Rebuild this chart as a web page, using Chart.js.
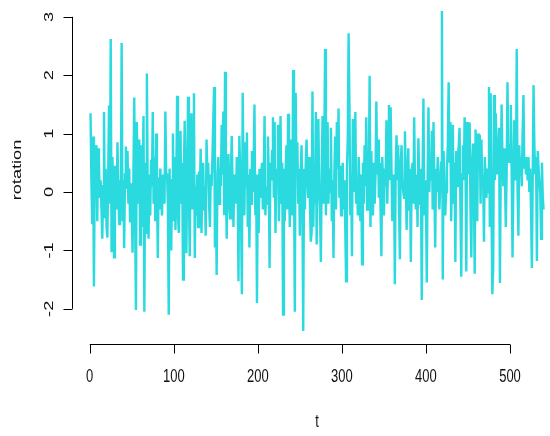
<!DOCTYPE html>
<html>
<head>
<meta charset="utf-8">
<script src="https://cdn.jsdelivr.net/npm/chart.js@4"></script>
<style>
  html, body { margin: 0; padding: 0; background: #fff; overflow: hidden; }
  #wrap { width: 550px; height: 436px; }
</style>
</head>
<body>
<div id="wrap"><canvas id="lineChart" width="550" height="436"></canvas></div>
<script>
// rotation values, t = 1..540
const rotationA = [
  1.35, 0.2, -0.55, 0.95, -1.62, 0.3, 0.7, 0.8, -0.5, 0.75,
  0.5, -0.1, 0.2, -0.3, -0.8, 0.1, 1.37, -0.45, 0.4, -0.6,
  -0.78, 0.3, 1.48, -0.2, 2.62, -1.03, 0.6, 0.15, -1.12, 0.45,
  0.0, -0.3, 0.85, 0.1, -0.55, 0.2, -0.35, 2.55, -0.5, 0.2,
  -0.96, 0.3, 0.78, 0.05, 0.7, -0.2, 0.4, -0.5, 0.15, -0.3,
  -1.04, 0.3, 1.62, -0.4, -2.02, 1.2, 0.4, -0.2, 0.9, -0.9,
  0.8, -0.6, 0.2, 1.3, -2.05, 0.5, -0.7, 2.03, 0.1, -0.8,
  0.3, -0.4, 0.55, 0.1, 1.37, -0.2, 0.6, -0.5, 1.0, 0.2,
  -1.13, 0.25, -0.3, 0.4, 0.0, -0.4, 0.3, 0.1, -0.2, 1.38
];
const rotationB = [
  0.3, 0.3, -0.2, -2.1, 0.4, -0.3, -1.0, 0.2, 1.0, -0.5,
  0.6, -0.65, 0.2, 1.65, -0.4, -0.7, 0.35, 1.05, -0.2, 0.5,
  -1.5, 0.3, 1.22, -0.1, -1.05, 0.4, 1.63, 0.0, -1.1, 0.6,
  1.35, -0.3, 0.2, 1.69, -1.13, 0.1, -0.4, 0.3, -0.6, 0.35,
  -0.1, 0.74, -0.7, 0.2, 0.5, -0.3, 0.1, -0.75, 0.9, 0.3,
  0.5, -0.2, -0.6, 0.3, 0.1, 0.6, 1.23, 1.8, -0.95, 0.2,
  -1.42, 0.3, 0.6, -0.2, 0.4, 0.1, 1.15, 0.3, 1.38, -0.4,
  2.06, 0.2, -0.8, 0.3, 0.65, -0.2, -0.45, 0.4, 0.96, 0.1,
  -0.6, 0.3, 0.0, -0.2, 0.6, 0.2, -1.53, 0.96, 0.4, -0.3
];
const rotationC = [
  -1.75, 1.7, 0.2, -0.4, 0.85, 0.1, 1.02, -0.6, 0.3, -0.95,
  0.4, -0.2, 0.7, 0.0, 0.5, 1.5, -0.4, 0.3, -1.9, 0.3,
  -0.7, 0.4, -0.1, 0.25, 0.5, -0.3, 0.2, 1.3, -0.4, 0.1,
  -0.2, 0.95, 0.3, -1.3, 0.5, 0.2, 0.7, 1.28, -0.1, 1.2,
  -0.7, 0.4, 0.3, 1.15, -0.5, 0.2, 1.3, -0.2, 0.5, -2.1,
  0.4, -0.5, 0.3, 0.8, -0.3, 1.34, 0.3, -0.6, 0.9, 0.2,
  -0.4, 2.09, 0.3, -2.05, 1.7, 0.3, 0.85, -0.2, 0.4, -0.75,
  0.3, 0.8, -0.1, -2.38, 0.4, -0.3, 0.5, 0.9, 0.2, -0.1,
  0.6, -0.2, -0.85, -0.7, 1.72, -0.6, 0.3, -0.2, 1.37, -0.9
];
const rotationD = [
  0.4, 1.25, 0.1, -0.3, -1.2, 0.3, 1.3, -0.2, 0.6, 2.45,
  -0.4, 0.5, 1.2, -0.2, 0.4, 0.0, 1.1, -0.5, 0.2, -1.13,
  0.3, 0.95, -0.3, 1.2, 0.4, 1.43, -0.1, 0.45, -0.4, 0.1,
  0.5, -0.3, 0.2, -0.6, -1.53, 0.4, 0.9, 2.72, 1.49, -0.4,
  0.3, -1.1, 1.25, 0.0, 0.5, 1.37, -0.2, 0.2, -0.4, 0.6,
  0.1, -0.5, 0.3, -1.24, 0.5, -0.2, 0.8, 0.1, 1.28, -0.3,
  0.4, 0.2, 1.99, -0.6, 0.7, 0.0, -0.4, 0.5, -0.2, 0.3,
  1.55, 0.3, 0.9, -0.1, 0.5, -0.3, -1.1, 0.6, 0.2, -0.4,
  0.4, 0.1, 1.23, -0.2, 0.5, 1.49, 0.2, 1.45, 0.4, -0.5
];
const rotationE = [
  -0.2, 0.3, -1.58, 0.4, 0.97, 0.2, 0.8, -0.3, -1.15, 0.5,
  0.8, 0.2, 0.0, -0.1, 1.04, 0.3, -0.65, 0.2, 0.75, -0.3,
  0.4, -1.2, 0.3, 0.5, -0.2, 1.28, 0.1, -0.3, 0.3, -0.6,
  0.92, 0.2, -0.2, 0.4, -1.85, 0.3, 1.6, -0.4, 0.2, -0.1,
  -1.55, 0.3, 1.45, 0.0, 0.5, 0.2, 1.05, -0.3, 1.2, 0.1,
  -0.95, 0.4, 0.0, 0.6, 0.2, -0.3, 0.1, 0.5, 3.1, -1.5,
  0.7, 0.2, -0.4, 0.0, 0.4, 0.8, 1.88, 0.5, 1.2, -0.5,
  0.3, 1.15, -0.2, 0.5, -1.2, 0.7, 0.1, 0.6, 0.8, 1.1,
  -0.2, -1.45, 0.3, 0.8, 0.2, 1.28, 0.6, -1.36, 1.2, 0.3
];
const rotationF = [
  0.8, 1.19, -0.3, -1.12, 0.5, 0.83, 0.1, -1.4, 1.07, 0.4,
  -0.5, 1.0, 0.4, 0.98, -0.2, 0.9, 0.1, 0.3, -0.85, 0.6,
  0.2, -0.1, 0.4, 0.0, 1.8, -0.6, 1.69, -0.3, -1.75, -1.3,
  1.66, 0.2, 1.35, 0.8, 0.3, 0.5, 1.1, -1.56, 0.4, 1.5,
  0.6, 0.1, 0.75, 0.2, -0.6, 0.3, 1.88, 0.7, 0.5, 0.8,
  1.49, 0.3, -1.12, 0.1, 1.23, 0.5, 0.2, 2.45, 0.0, -0.75,
  0.8, 0.3, 0.6, 0.1, 1.0, 1.66, 0.4, 0.6, 0.3, 0.5,
  0.2, 0.6, 0.0, 0.4, -0.3, -1.3, 0.2, 1.83, 0.8, 0.3,
  0.6, -1.18, 0.7, 0.4, 0.2, 0.0, -0.8, 0.5, -0.1, -0.3
];

const xTicks = [0, 100, 200, 300, 400, 500];
const yTicks = [-2, -1, 0, 1, 2, 3];
const xTitle = 't';
const yTitle = 'rotation';

const rotation = rotationA.concat(rotationB, rotationC, rotationD, rotationE, rotationF);
const points = rotation.map((v, i) => ({ x: i + 1, y: v }));

// R-style axes: lines only across the tick range, text stretched like the picture
const rAxes = {
  id: 'rAxes',
  afterDraw(chart) {
    const ctx = chart.ctx;
    const xs = chart.scales.x;
    const ys = chart.scales.y;
    const area = chart.chartArea;
    const stretch = 1.4;
    ctx.save();
    ctx.strokeStyle = '#000';
    ctx.fillStyle = '#111';
    ctx.lineWidth = 1;

    // x axis
    const yb = Math.round(area.bottom) + 0.5;
    ctx.beginPath();
    ctx.moveTo(xs.getPixelForValue(xTicks[0]), yb);
    ctx.lineTo(xs.getPixelForValue(xTicks[xTicks.length - 1]), yb);
    xTicks.forEach(v => {
      const px = Math.round(xs.getPixelForValue(v)) + 0.5;
      ctx.moveTo(px, yb);
      ctx.lineTo(px, yb + 9);
    });
    ctx.stroke();

    ctx.font = '13px "Liberation Sans", Arial, sans-serif';
    ctx.textAlign = 'center';
    ctx.textBaseline = 'middle';
    xTicks.forEach(v => {
      ctx.save();
      ctx.translate(xs.getPixelForValue(v), 377);
      ctx.scale(1, stretch);
      ctx.fillText(String(v), 0, 0);
      ctx.restore();
    });
    ctx.save();
    ctx.translate((area.left + xs.getPixelForValue(xs.max)) / 2 + 7, 422);
    ctx.scale(1, stretch);
    ctx.fillText(xTitle, 0, 0);
    ctx.restore();

    // y axis
    const xl = Math.round(area.left) + 0.5;
    ctx.beginPath();
    ctx.moveTo(xl, ys.getPixelForValue(yTicks[0]));
    ctx.lineTo(xl, ys.getPixelForValue(yTicks[yTicks.length - 1]));
    yTicks.forEach(v => {
      const py = Math.round(ys.getPixelForValue(v)) + 0.5;
      ctx.moveTo(xl, py);
      ctx.lineTo(xl - 9, py);
    });
    ctx.stroke();

    yTicks.forEach(v => {
      ctx.save();
      ctx.translate(49, ys.getPixelForValue(v));
      ctx.scale(1, stretch);
      ctx.rotate(-Math.PI / 2);
      ctx.fillText(String(v), 0, 0);
      ctx.restore();
    });
    ctx.save();
    ctx.translate(17, 170);
    ctx.scale(1, stretch);
    ctx.rotate(-Math.PI / 2);
    ctx.fillText(yTitle, 0, 0);
    ctx.restore();

    ctx.restore();
  }
};

const ctx = document.getElementById('lineChart').getContext('2d');

new Chart(ctx, {
  type: 'line',
  data: {
    datasets: [{
      label: yTitle,
      data: points,
      borderColor: '#2adade',
      backgroundColor: '#2adade',
      borderWidth: 2.4,
      pointRadius: 0,
      tension: 0,
      fill: false
    }]
  },
  options: {
    responsive: false,
    animation: false,
    layout: { padding: { left: 72, right: 2, top: 0, bottom: 92 } },
    plugins: {
      legend: { display: false },
      tooltip: { enabled: false }
    },
    scales: {
      x: { type: 'linear', min: -21.06, max: 545.2, display: false },
      y: { type: 'linear', min: -2.603, max: 3.288, display: false }
    }
  },
  plugins: [rAxes]
});
</script>
</body>
</html>
